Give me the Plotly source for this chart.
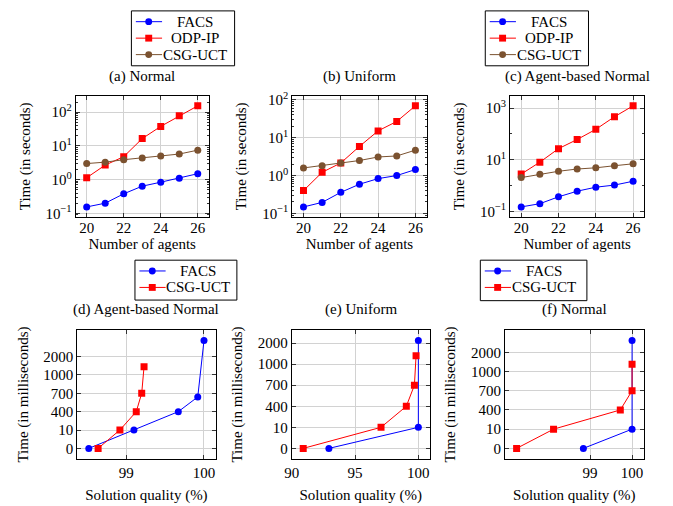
import numpy as np
import plotly.graph_objects as go

W, H = 673, 506
FONT = "Liberation Serif"
FS = 15

BLUE = "#0000ff"
RED = "#ff0000"
BROWN = "#7b5230"

# ---------------- data : top row (time vs number of agents) ----------------
AGENTS = [20, 21, 22, 23, 24, 25, 26]

# (a) Normal
A_FACS = [0.155, 0.20, 0.38, 0.64, 0.84, 1.10, 1.50]
A_ODP = [1.14, 2.7, 4.8, 16.5, 38, 79, 155]
A_CSG = [3.0, 3.3, 3.9, 4.4, 5.0, 5.75, 7.5]
# (b) Uniform
B_FACS = [0.148, 0.195, 0.36, 0.59, 0.83, 1.0, 1.44]
B_ODP = [0.40, 1.22, 2.15, 5.9, 15.2, 27, 70]
B_CSG = [1.59, 1.83, 2.15, 2.5, 3.1, 3.3, 4.7]
# (c) Agent-based Normal
C_FACS = [0.15, 0.20, 0.37, 0.61, 0.87, 1.05, 1.48]
C_ODP = [2.8, 8.1, 27, 61, 151, 464, 1230]
C_CSG = [2.05, 2.75, 3.6, 4.4, 4.9, 5.9, 7.0]

# ---------------- data : bottom row (time vs solution quality) ----------------
# (d) Agent-based Normal
D_FACS_Q = [98.52, 99.10, 99.67, 99.92, 100.0]
D_FACS_T = [0, 10, 400, 640, 2870]
D_CSG_Q = [98.64, 98.92, 99.13, 99.20, 99.23]
D_CSG_T = [0, 10, 400, 700, 1450]
# (e) Uniform
E_FACS_Q = [92.93, 100.0, 100.0]
E_FACS_T = [0, 10, 2120]
E_CSG_Q = [90.9, 97.05, 99.05, 99.69, 99.82]
E_CSG_T = [0, 10, 400, 700, 1400]
# (f) Normal
F_FACS_Q = [98.84, 100.0, 100.0]
F_FACS_T = [0, 10, 2610]
F_CSG_Q = [97.25, 98.13, 99.72, 100.0, 100.0]
F_CSG_T = [0, 10, 400, 700, 1380]

TIME_TICK_MS = [0, 10, 400, 700, 1000, 2000]
TIME_TICK_TEXT = ["0", "10", "400", "700", "1000", "2000"]

TOP_TITLES = ["(a) Normal", "(b) Uniform", "(c) Agent-based Normal"]
BOT_TITLES = ["(d) Agent-based Normal", "(e) Uniform", "(f) Normal"]


def ms_level(values):
    """Piecewise-linear time axis used by the figure (equally spaced ticks)."""
    v = np.asarray(values, float)
    lv = np.interp(v, TIME_TICK_MS, np.arange(len(TIME_TICK_MS), dtype=float))
    over = v > TIME_TICK_MS[-1]
    lv[over] = len(TIME_TICK_MS) - 1 + (v[over] - TIME_TICK_MS[-1]) / 1000.0
    return lv


def enlarge(lo, hi, f=0.1):
    d = (hi - lo) * f
    return [lo - d, hi + d]


def sup(p):
    return "10<sup>%s%d</sup>" % ("\u2212" if p < 0 else "", abs(p))


fig = go.Figure()

# panel frames in pixels (left, right, top, bottom)
TOP_BOX = [(69.3, 204.0), (288.3, 424.0), (508.3, 644.0)]
TOP_Y = (91.5, 215.3)
BOT_BOX = [(71.0, 210.7), (287.7, 427.3), (503.3, 643.3)]
BOT_Y = (330.3, 462.3)

STYLE = {
    "FACS": dict(color=BLUE, symbol="circle"),
    "ODP-IP": dict(color=RED, symbol="square"),
    "CSG-UCT": dict(color=BROWN, symbol="circle"),
    "CSG-UCT2": dict(color=RED, symbol="square"),
}

TXT = dict(family=FONT, size=FS, color="black")

axis_common = dict(
    showline=True, linecolor="black", linewidth=0.9, mirror="ticks",
    ticks="inside", ticklen=4, tickwidth=0.8, tickcolor="#333",
    showgrid=True, gridcolor="#d2d2d2", gridwidth=0.9, zeroline=False,
    tickfont=TXT,
)

top_sets = [
    (A_FACS, A_ODP, A_CSG, [-1, 0, 1, 2], 1),
    (B_FACS, B_ODP, B_CSG, [-1, 0, 1, 2], 1),
    (C_FACS, C_ODP, C_CSG, [-1, 1, 3], 2),
]

layout = {}
for i, (facs, odp, csg, decades, step) in enumerate(top_sets):
    n = i + 1
    xa = "x" if n == 1 else "x%d" % n
    ya = "y" if n == 1 else "y%d" % n
    for name, vals in (("FACS", facs), ("ODP-IP", odp), ("CSG-UCT", csg)):
        st = STYLE[name]
        fig.add_trace(go.Scatter(
            x=AGENTS, y=vals, mode="lines+markers", name=name, showlegend=False,
            line=dict(color=st["color"], width=1),
            marker=dict(color=st["color"], symbol=st["symbol"], size=7, line=dict(width=0)),
            xaxis=xa, yaxis=ya))
    allv = np.log10(np.array(facs + odp + csg, float))
    yr = enlarge(allv.min(), allv.max())
    l, r = TOP_BOX[i]
    minor_vals = []
    if step == 1:
        for p in range(-2, 4):
            minor_vals += [m * 10.0 ** p for m in range(2, 10)]
    else:
        minor_vals = [10.0 ** p for p in range(-2, 5)]
    layout["xaxis" if n == 1 else "xaxis%d" % n] = dict(
        axis_common, domain=[l / W, r / W], anchor=ya, range=[19.4, 26.6],
        tickvals=[20, 22, 24, 26], ticklabelstandoff=-3,
        title=dict(text="Number of agents", font=TXT, standoff=3),
    )
    layout["yaxis" if n == 1 else "yaxis%d" % n] = dict(
        axis_common, domain=[1 - TOP_Y[1] / H, 1 - TOP_Y[0] / H], anchor=xa,
        type="log", range=yr,
        tickmode="array", tickvals=[10.0 ** p for p in decades], ticktext=[sup(p) for p in decades],
        minor=dict(tickmode="array", tickvals=minor_vals, ticks="inside", ticklen=2,
                   tickcolor="#333", tickwidth=0.6, showgrid=False),
        title=dict(text="Time (in seconds)", font=TXT, standoff=11),
    )

bot_sets = [
    (D_FACS_Q, D_FACS_T, D_CSG_Q, D_CSG_T, [99, 100]),
    (E_FACS_Q, E_FACS_T, E_CSG_Q, E_CSG_T, [90, 95, 100]),
    (F_FACS_Q, F_FACS_T, F_CSG_Q, F_CSG_T, [99, 100]),
]
for i, (fq, ft, cq, ct, xt) in enumerate(bot_sets):
    n = i + 4
    xa = "x%d" % n
    ya = "y%d" % n
    for name, q, t in (("FACS", fq, ft), ("CSG-UCT2", cq, ct)):
        st = STYLE[name]
        fig.add_trace(go.Scatter(
            x=q, y=ms_level(t), mode="lines+markers", name=name.replace("2", ""), showlegend=False,
            customdata=t, hovertemplate="%{x}%%, %{customdata} ms<extra></extra>",
            line=dict(color=st["color"], width=1),
            marker=dict(color=st["color"], symbol=st["symbol"], size=7, line=dict(width=0)),
            xaxis=xa, yaxis=ya))
    allq = np.array(fq + cq, float)
    alll = ms_level(ft + ct)
    l, r = BOT_BOX[i]
    layout["xaxis%d" % n] = dict(
        axis_common, domain=[l / W, r / W], anchor=ya, range=enlarge(allq.min(), allq.max()),
        tickmode="array", tickvals=xt, ticktext=[str(v) for v in xt],
        title=dict(text="Solution quality (%)", font=TXT, standoff=9),
    )
    layout["yaxis%d" % n] = dict(
        axis_common, domain=[1 - BOT_Y[1] / H, 1 - BOT_Y[0] / H], anchor=xa,
        range=enlarge(alll.min(), alll.max()),
        tickmode="array", tickvals=list(range(len(TIME_TICK_MS))), ticktext=TIME_TICK_TEXT,
        title=dict(text="Time (in milliseconds)", font=TXT, standoff=11),
    )

fig.update_layout(**layout)

# sub-captions
for (l, r), t in zip(TOP_BOX, TOP_TITLES):
    fig.add_annotation(text=t, x=(l + r) / 2 / W, y=1 - 72.3 / H, xref="paper", yref="paper",
                       xanchor="center", yanchor="middle", showarrow=False, font=TXT)
for (l, r), t in zip(BOT_BOX, BOT_TITLES):
    fig.add_annotation(text=t, x=(l + r) / 2 / W, y=1 - 309.5 / H, xref="paper", yref="paper",
                       xanchor="center", yanchor="middle", showarrow=False, font=TXT)


def add_legend(left, top, width, height, entries):
    fig.add_shape(type="rect", xref="paper", yref="paper",
                  x0=left / W, x1=(left + width) / W, y0=1 - (top + height) / H, y1=1 - top / H,
                  line=dict(color="black", width=1), fillcolor="white", layer="above")
    for k, key in enumerate(entries):
        st = STYLE[key]
        yc = top + 11.0 + k * 16.8
        fig.add_shape(type="line", xref="paper", yref="paper",
                      x0=(left + 4.5) / W, x1=(left + 31) / W, y0=1 - yc / H, y1=1 - yc / H,
                      line=dict(color=st["color"], width=1), layer="above")
        cx, rr = left + 17.5, 3.5
        fig.add_shape(type="circle" if st["symbol"] == "circle" else "rect",
                      xref="paper", yref="paper",
                      x0=(cx - rr) / W, x1=(cx + rr) / W, y0=1 - (yc + rr) / H, y1=1 - (yc - rr) / H,
                      line=dict(width=0), fillcolor=st["color"], layer="above")
        fig.add_annotation(text=key.replace("2", ""), x=(left + 64) / W, y=1 - yc / H,
                           xref="paper", yref="paper", xanchor="center", yanchor="middle",
                           showarrow=False, font=TXT)


add_legend(125.7, 5.0, 104.3, 56.0, ["FACS", "ODP-IP", "CSG-UCT"])
add_legend(483.3, 5.0, 104.3, 56.0, ["FACS", "ODP-IP", "CSG-UCT"])
add_legend(129.3, 259.3, 103.0, 40.7, ["FACS", "CSG-UCT2"])
add_legend(478.3, 259.3, 107.7, 41.3, ["FACS", "CSG-UCT2"])

fig.update_layout(
    width=W, height=H, margin=dict(l=0, r=0, t=0, b=0),
    paper_bgcolor="white", plot_bgcolor="white",
    font=TXT,
    showlegend=False,
)

fig.write_html("out.html", config={"displayModeBar": False},
               post_script="document.body.style.margin='0px';")
